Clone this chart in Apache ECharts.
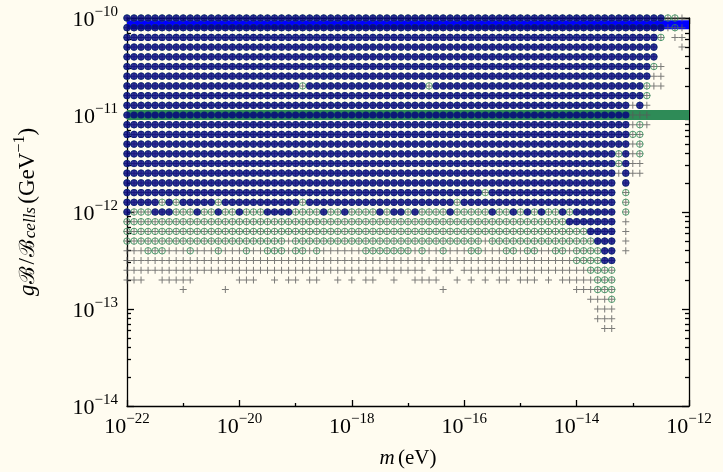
<!DOCTYPE html>
<html>
<head>
<meta charset="utf-8">
<script src="https://cdn.jsdelivr.net/npm/echarts@6/dist/echarts.min.js"></script>
<style>
  html, body { margin: 0; padding: 0; background: #fffcf0; }
  #chart { width: 723px; height: 472px; }
</style>
</head>
<body>
<div id="chart"></div>
<script>
// log10 of the mass grid (eV), one value per column
var massExp = [
  -22, -21.875, -21.75, -21.625, -21.5, -21.375, -21.25, -21.125,
  -21, -20.875, -20.75, -20.625, -20.5, -20.375, -20.25, -20.125,
  -20, -19.875, -19.75, -19.625, -19.5, -19.375, -19.25, -19.125,
  -19, -18.875, -18.75, -18.625, -18.5, -18.375, -18.25, -18.125,
  -18, -17.875, -17.75, -17.625, -17.5, -17.375, -17.25, -17.125,
  -17, -16.875, -16.75, -16.625, -16.5, -16.375, -16.25, -16.125,
  -16, -15.875, -15.75, -15.625, -15.5, -15.375, -15.25, -15.125,
  -15, -14.875, -14.75, -14.625, -14.5, -14.375, -14.25, -14.125,
  -14, -13.875, -13.75, -13.625, -13.5, -13.375, -13.25, -13.125,
  -13, -12.875, -12.75, -12.625, -12.5, -12.375, -12.25, -12.125,
  -12
];

// log10 of the coupling grid (GeV^-1), one value per row, top to bottom
var couplingExp = [
  -10, -10.1, -10.2, -10.3, -10.4, -10.5, -10.6, -10.7, -10.8, -10.9,
  -11, -11.1, -11.2, -11.3, -11.4, -11.5, -11.6, -11.7, -11.8, -11.9,
  -12, -12.1, -12.2, -12.3, -12.4, -12.5, -12.6, -12.7, -12.8, -12.9,
  -13, -13.1, -13.2
];

// status of each grid point: b = filled blue, g = green ring, p = plus only, . = none
var statusRows = [
  'bbbbbbbbbb bbbbbbbbbb bbbbbbbbbb bbbbbbbbbb bbbbbbbbbb bbbbbbbbbb bbbbbbbbbb bbbbbbbggp .',
  'bbbbbbbbbb bbbbbbbbbb bbbbbbbbbb bbbbbbbbbb bbbbbbbbbb bbbbbbbbbb bbbbbbbbbb bbbbbbbpgp .',
  'bbbbbbbbbb bbbbbbbbbb bbbbbbbbbb bbbbbbbbbb bbbbbbbbbb bbbbbbbbbb bbbbbbbbbb bbbbbbg.pp .',
  'bbbbbbbbbb bbbbbbbbbb bbbbbbbbbb bbbbbbbbbb bbbbbbbbbb bbbbbbbbbb bbbbbbbbbb bbbbbb...p .',
  'bbbbbbbbbb bbbbbbbbbb bbbbbbbbbb bbbbbbbbbb bbbbbbbbbb bbbbbbbbbb bbbbbbbbbb bbbbbb.... .',
  'bbbbbbbbbb bbbbbbbbbb bbbbbbbbbb bbbbbbbbbb bbbbbbbbbb bbbbbbbbbb bbbbbbbbbb bbbbbgp... .',
  'bbbbbbbbbb bbbbbbbbbb bbbbbbbbbb bbbbbbbbbb bbbbbbbbbb bbbbbbbbbb bbbbbbbbbb bbbbbpp... .',
  'bbbbbbbbbb bbbbbbbbbb bbbbbgbbbb bbbbbbbbbb bbbgbbbbbb bbbbbbbbbb bbbbbbbbbb bbbbgpp... .',
  'bbbbbbbbbb bbbbbbbbbb bbbbbbbbbb bbbbbbbbbb bbbbbbbbbb bbbbbbbbbb bbbbbbbbbb bbbbg..... .',
  'bbbbbbbbbb bbbbbbbbbb bbbbbbbbbb bbbbbbbbbb bbbbbbbbbb bbbbbbbbbb bbbbbbbbbb bbpbp..... .',
  'bbbbbbbbbb bbbbbbbbbb bbbbbbbbbb bbbbbbbbbb bbbbbbbbbb bbbbbbbbbb bbbbbbbbbb bbppp..... .',
  'bbbbbbbbbb bbbbbbbbbb bbbbbbbbbb bbbbbbbbbb bbbbbbbbbb bbbbbbbbbb bbbbbbbbbb bbpgp..... .',
  'bbbbbbbbbb bbbbbbbbbb bbbbbbbbbb bbbbbbbbbb bbbbbbbbbb bbbbbbbbbb bbbbbbbbbb bbgg...... .',
  'bbbbbbbbbb bbbbbbbbbb bbbbbbbbbb bbbbbbbbbb bbbbbbbbbb bbbbbbbbbb bbbbbbbbbb bbpg...... .',
  'bbbbbbbbbb bbbbbbbbbb bbbbbbbbbb bbbbbbbbbb bbbbbbbbbb bbbbbbbbbb bbbbbbbbbb gbpg...... .',
  'bbbbbbbbbb bbbbbbbbbb bbbbbbbbbb bbbbbbbbbb bbbbbbbbbb bbbbbbbbbb bbbbbbbbbb gbpp...... .',
  'bbbbbbbbbb bbbbbbbbbb bbbbbbbbbb bbbbbbbbbb bbbbbbbbbb bbbbbbbbbb bbbbbbbbbb pbpp...... .',
  'bbbbbbbbbb bbbbbbbbbb bbbbbbbbbb bbbbbbbbbb bbbbbbbbbb bbbbbbbbbb bbbbbbbbbb .b........ .',
  'bbbbbbbbbb bbbbbbbbbb bbbbbbbbbb bbbbbbbbbb bbbbbbbbbb bgbbbbbbbb bbbbbbbbbb .g........ .',
  'bbbbbgbgbb bbbgbbbbbb bbbbbgbbbb bbbbbbbbbb bbbbbbbgbb bbbbbbbbbb bbbbbbbbbb .g........ .',
  'bgggbbbggg bggbggbggg bbbbggggbg gbggggbgbb gbggggbggg ggbggbgbgb ggbgbbbbbb .g........ .',
  'gggggggggg gggggggggg gggggggggg gggggggggg gggggggggg gggggggggg gggbbbbbbb .p........ .',
  'gggggggggg gggggggggg gggggggggg gggggggggg gggggggggg gggggggggg ggggggbbbb .p........ .',
  'gggggggggg gggggggggg gggpgggggg gggggggggg gggggggggg gpgggggggg gggggggbbb .p........ .',
  'pppgggpppg pppgpppgpp gggpggpgpp ppppgggggg gpgppgpppg gpppggpggp pggpggggbb .p........ .',
  'pppppppppp pppppppppp pppppppppp pppppppppp pppppppppp pppppppppp ppppggggbb .......... .',
  'pppppppppp pppppppppp pppppppppp pppppppppp ppp.ppp.pp pppppppppp ppppppgggg .......... .',
  'ppp..ppppp ......ppp. .p.pp.pp.. p.p.pp..p. .pppp..p.p .p.pp.ppp. p.pppppggg .......... .',
  '........p. ....p..... .......... .......... .....p.... .......... ....pppggg .......... .',
  '.......... .......... .......... .......... .......... .......... ......pppg .......... .',
  '.......... .......... .......... .......... .......... .......... .......ppp .......... .',
  '.......... .......... .......... .......... .......... .......... .......ppp .......... .',
  '.......... .......... .......... .......... .......... .......... ........pp .......... .'
];

// horizontal bands (log10 of coupling) across the whole mass range
var bandMassExp = [-22, -12];
var blueBandExp = -10.07;
var greenBandExp = -11;

var plusPts = [], ringPts = [], bluePts = [];
statusRows.forEach(function (row, j) {
  var s = row.replace(/ /g, '');
  for (var k = 0; k < s.length && k < massExp.length; k++) {
    var c = s.charAt(k);
    if (c === '.') continue;
    var pt = [massExp[k], couplingExp[j]];
    plusPts.push(pt);
    if (c === 'g' || c === 'b') ringPts.push(pt);
    if (c === 'b') bluePts.push(pt);
  }
});

// minor ticks of the y axis at 2..9 x 10^n
var minorY = [];
for (var n = -14; n < -10; n++) {
  for (var m = 2; m <= 9; m++) minorY.push(n + Math.log10(m));
}

var serif = 'Liberation Serif';
var powRich = {
  b: { fontFamily: serif, fontSize: 22, lineHeight: 26, color: '#000', verticalAlign: 'bottom' },
  s: { fontFamily: serif, fontSize: 15, lineHeight: 15, color: '#000', verticalAlign: 'top' }
};
function powLabel(v) {
  return '{b|10}{s|' + String(v).replace('-', '\u2212') + '}';
}

var PLUS = 'path://M3,0H4V3H7V4H4V7H3V4H0V3H3Z';
var black = { color: '#000', width: 1.3 };

var chartObj = echarts.init(document.getElementById('chart'));

var option = {
  backgroundColor: '#fffcf0',
  animation: false,
  grid: { left: 127, right: 34, top: 18, bottom: 66, containLabel: false, outerBoundsMode: 'none' },
  xAxis: [
    {
      type: 'value', min: -22, max: -12, interval: 2, position: 'bottom',
      axisLine: { lineStyle: black },
      axisTick: { inside: true, length: 6, lineStyle: black },
      minorTick: { show: true, splitNumber: 2, length: 3, lineStyle: black },
      splitLine: { show: false },
      axisLabel: { formatter: powLabel, rich: powRich, margin: 6 },
      name: '{i|m} {r|(eV)}',
      nameLocation: 'middle',
      nameGap: 42,
      nameTextStyle: {
        rich: {
          i: { fontFamily: serif, fontStyle: 'italic', fontSize: 21, color: '#000' },
          r: { fontFamily: serif, fontSize: 21, color: '#000' }
        }
      }
    },
    {
      type: 'value', min: -22, max: -12, interval: 2, position: 'top',
      axisLine: { lineStyle: black },
      axisTick: { inside: true, length: 6, lineStyle: black },
      minorTick: { show: true, splitNumber: 2, length: 3, lineStyle: black },
      splitLine: { show: false },
      axisLabel: { show: false }
    }
  ],
  yAxis: [
    {
      type: 'value', min: -14, max: -10, interval: 1, position: 'left',
      axisLine: { lineStyle: black },
      axisTick: { inside: true, length: 7, lineStyle: black },
      splitLine: { show: false },
      axisLabel: { formatter: powLabel, rich: powRich, margin: 9 },
      name: '{i|g}{c|\u212C}{r|/}{c|\u212C}{sub|cells} {r|(GeV}{sup|\u22121}{r|)}',
      nameLocation: 'middle',
      nameRotate: 90,
      nameGap: 88,
      nameTextStyle: {
        rich: {
          i: { fontFamily: serif, fontStyle: 'italic', fontSize: 23, lineHeight: 27, color: '#000', verticalAlign: 'bottom' },
          c: { fontFamily: 'DejaVu Serif', fontSize: 21, lineHeight: 27, color: '#000', verticalAlign: 'bottom', padding: [0, 1, 0, 1] },
          r: { fontFamily: serif, fontSize: 23, lineHeight: 27, color: '#000', verticalAlign: 'bottom' },
          sub: { fontFamily: serif, fontStyle: 'italic', fontSize: 17, lineHeight: 17, color: '#000', verticalAlign: 'bottom' },
          sup: { fontFamily: serif, fontSize: 16, lineHeight: 16, color: '#000', verticalAlign: 'top' }
        }
      }
    },
    {
      type: 'value', min: -14, max: -10, position: 'left',
      axisLine: { show: false },
      axisTick: { inside: true, length: 4, lineStyle: black, customValues: minorY },
      axisLabel: { show: false },
      splitLine: { show: false }
    },
    {
      type: 'value', min: -14, max: -10, interval: 1, position: 'right',
      axisLine: { lineStyle: black },
      axisTick: { inside: true, length: 7, lineStyle: black },
      axisLabel: { show: false },
      splitLine: { show: false }
    },
    {
      type: 'value', min: -14, max: -10, position: 'right',
      axisLine: { show: false },
      axisTick: { inside: true, length: 4, lineStyle: black, customValues: minorY },
      axisLabel: { show: false },
      splitLine: { show: false }
    }
  ],
  series: [
    {
      type: 'line', silent: true, symbol: 'none', z: 1,
      data: [[bandMassExp[0], blueBandExp], [bandMassExp[1], blueBandExp]],
      lineStyle: { color: '#0000ff', width: 9, cap: 'butt' }
    },
    {
      type: 'line', silent: true, symbol: 'none', z: 1,
      data: [[bandMassExp[0], greenBandExp], [bandMassExp[1], greenBandExp]],
      lineStyle: { color: '#2e8b57', width: 10, cap: 'butt' }
    },
    {
      type: 'scatter', data: plusPts, symbol: PLUS, symbolSize: 7, clip: false, progressive: 0, z: 2,
      itemStyle: { color: '#5a5a5a' }
    },
    {
      type: 'scatter', data: ringPts, symbol: 'circle', symbolSize: 6.5, clip: false, progressive: 0, z: 3,
      itemStyle: { color: 'rgba(0,0,0,0)', borderColor: '#2e8b57', borderWidth: 1 }
    },
    {
      type: 'scatter', data: bluePts, symbol: 'circle', symbolSize: 7.2, clip: false, progressive: 0, z: 4,
      itemStyle: { color: '#00007f' }
    }
  ]
};

chartObj.setOption(option);
</script>
</body>
</html>
